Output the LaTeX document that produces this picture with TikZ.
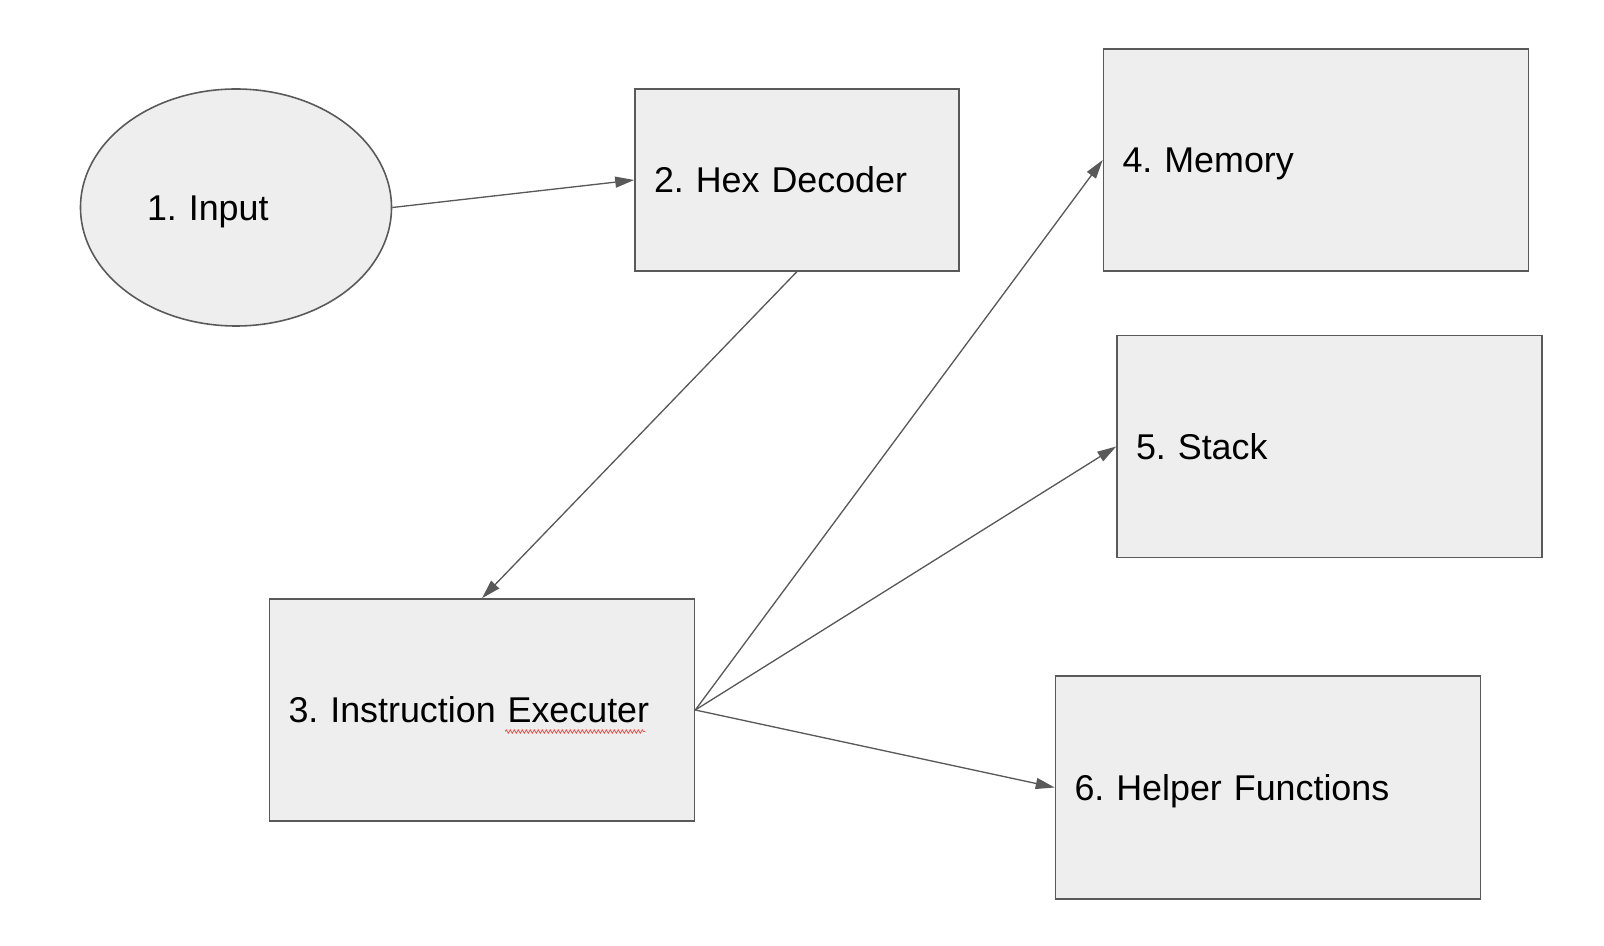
\documentclass[tikz,border=0pt]{standalone}
\usepackage{fontspec}
\setmainfont{Liberation Sans}
\frenchspacing
\usetikzlibrary{arrows.meta,shapes.geometric,decorations.pathmorphing}
\definecolor{edge}{RGB}{89,89,89}
\definecolor{paper}{RGB}{238,238,238}
\definecolor{squiggle}{RGB}{225,80,70}
\tikzset{
  >={Triangle[length=3.8mm,width=2.2mm]},
  box/.style={draw=edge,fill=paper,line width=0.9pt,minimum width=8.5cm,
    minimum height=4.44cm,inner xsep=3.8mm,text width=7.74cm,align=left,
    text height=5.1mm,text depth=0pt,
    font=\fontsize{20.4}{24}\selectfont},
  oval/.style={ellipse,draw=edge,fill=paper,line width=0.9pt,inner sep=0pt,
    minimum width=6.22cm,minimum height=4.74cm,text width=3.56cm,align=left,
    text height=5.1mm,text depth=0pt,
    font=\fontsize{20.4}{24}\selectfont},
  flow/.style={->,draw=edge,line width=0.75pt,fill=edge},
}
\begin{document}
\begin{tikzpicture}
  \useasboundingbox (0,0) rectangle (32.08,-18.92);
  \node[oval] (in) at (4.72,-4.15) {1. Input};
  \node[box,minimum width=6.48cm,minimum height=3.63cm,text width=5.72cm] (hex) at (15.94,-3.60) {2. Hex Decoder};
  \node[box] (exe) at (9.64,-14.20) {3. Instruction Executer};
  \node[box,minimum height=4.43cm] (mem) at (26.32,-3.20) {4. Memory};
  \node[box] (stk) at (26.59,-8.93) {5. Stack};
  \node[box,minimum height=4.45cm] (help) at (25.36,-15.75) {6. Helper Functions};
  % arrows
  \draw[flow] (in.east) -- (hex.west);
  \draw[flow] (hex.south) -- (exe.north);
  \foreach \n in {mem,stk,help} \draw[flow] (exe.east) -- (\n.west);
  % spell-check mark
  \draw[squiggle,line width=0.4pt,decorate,decoration={snake,amplitude=0.35mm,segment length=0.8mm}]
    (10.1,-14.63) -- (12.9,-14.63);
\end{tikzpicture}
\end{document}
